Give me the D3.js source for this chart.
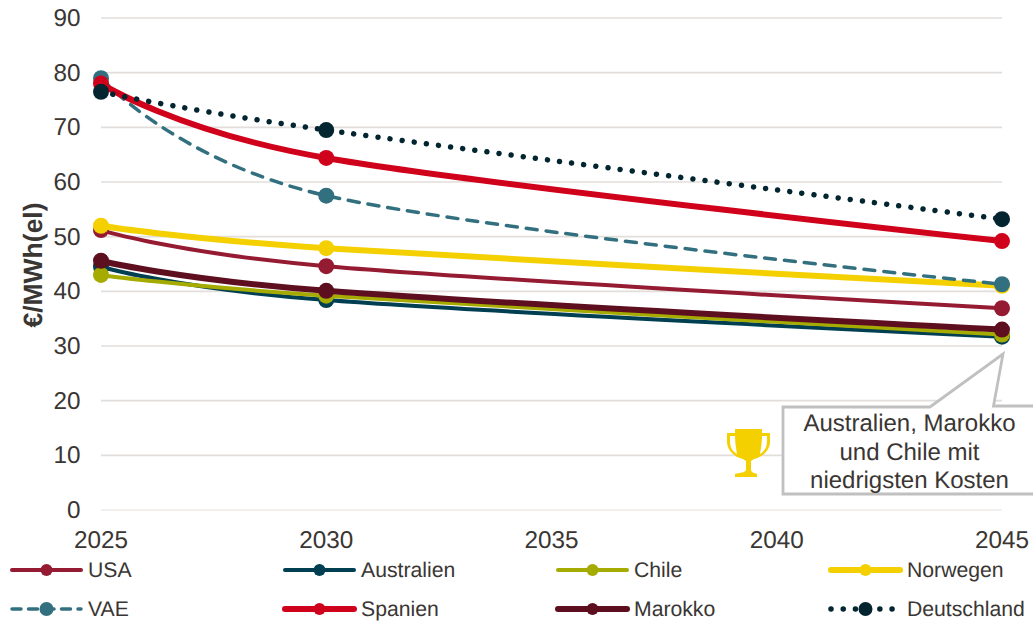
<!DOCTYPE html>
<html><head><meta charset="utf-8">
<script src="https://cdn.jsdelivr.net/npm/d3@7"></script>
<style>html,body{margin:0;padding:0;background:#fff}svg{display:block}text{font-family:"Liberation Sans",Arial,sans-serif;fill:#3a3633;text-rendering:geometricPrecision}</style>
</head><body><svg id="c" width="1033" height="621"></svg>
<script>
const years=[2025,2030,2045];
const yTicks=[0,10,20,30,40,50,60,70,80,90];
const xTicks=[2025,2030,2035,2040,2045];
const names=["USA","Australien","Chile","Norwegen","VAE","Spanien","Marokko","Deutschland"];
const colors=["#951b32","#003f52","#a5ab00","#f5d000","#33707f","#d0021b","#5e0f1f","#02252f"];
const widths=[4,4,4,6,3.5,6,6,0];
const usa=[51.2,44.6,36.9];
const australien=[44.5,38.4,31.7];
const chile=[43.0,39.2,32.1];
const norwegen=[52.0,47.9,41.0];
const vae=[79.0,57.5,41.3];
const spanien=[78.0,64.4,49.2];
const marokko=[45.6,40.1,33.0];
const deutschland=[76.5,69.5,53.2];
const values=[usa,australien,chile,norwegen,vae,spanien,marokko,deutschland];
const callout=["Australien, Marokko","und Chile mit","niedrigsten Kosten"];

const svg=d3.select("#c");
const x=d3.scaleLinear().domain([2025,2045]).range([101,1002]);
const y=d3.scaleLinear().domain([0,90]).range([510,18]);

svg.append("g").selectAll("line").data(yTicks).join("line")
  .attr("x1",x(2025)).attr("x2",x(2045)).attr("y1",d=>y(d)).attr("y2",d=>y(d))
  .attr("stroke",d=>d===0?"#eeeae7":"#e2dedb").attr("stroke-width",1.6);
svg.append("g").selectAll("text").data(yTicks).join("text")
  .attr("x",80.500).attr("y",d=>y(d)+8).attr("text-anchor","end").attr("font-size",24.300).text(d=>d);
svg.append("g").selectAll("text").data(xTicks).join("text")
  .attr("x",d=>x(d)).attr("y",547.500).attr("text-anchor","middle").attr("font-size",24.300).text(d=>d);
svg.append("text").attr("transform","translate(42,265) rotate(-90)").attr("text-anchor","middle")
  .attr("font-size",26.500).attr("font-weight","bold").text("€/MWh(el)");

const line=d3.line().x(d=>x(d[0])).y(d=>y(d[1])).curve(d3.curveCardinal.tension(0));
function dash(i){return i===4?"11 9":i===7?"0.01 12.2":null;}
names.forEach((n,i)=>{
  const g=svg.append("g");
  const pts=years.map((yr,k)=>[yr,values[i][k]]);
  g.append("path").attr("d",line(pts)).attr("fill","none").attr("stroke",colors[i])
   .attr("stroke-width",i===7?5.5:widths[i]).attr("stroke-linecap","round")
   .attr("stroke-dasharray",dash(i));
  g.selectAll("circle").data(pts).join("circle").attr("cx",d=>x(d[0])).attr("cy",d=>y(d[1]))
   .attr("r",8).attr("fill",colors[i]);
});

// legend
const legX=[12,285,558,831], legY=[570,609];
names.forEach((n,i)=>{
  const lx=legX[i%4], ly=legY[i<4?0:1], g=svg.append("g");
  g.append("line").attr("x1",lx).attr("x2",lx+69).attr("y1",ly).attr("y2",ly)
   .attr("stroke",colors[i]).attr("stroke-width",i===7?5.5:widths[i]).attr("stroke-linecap","round")
   .attr("stroke-dasharray",i===4?"9 7.5":i===7?"0.01 12.2":null);
  g.append("circle").attr("cx",lx+34.5).attr("cy",ly).attr("r",i===7||i===4?7:6).attr("fill",colors[i]);
  g.append("text").attr("x",lx+76).attr("y",ly+7).attr("font-size",21.200).text(n);
});

// callout
svg.append("path").attr("d","M783 407H930L1003 354L993.500 406H1040V494H783Z")
  .attr("fill","#fff").attr("stroke","#c0c0c0").attr("stroke-width",2.8);
svg.append("g").selectAll("text").data(callout).join("text")
  .attr("x",909.500).attr("y",(d,i)=>431+i*28.500).attr("text-anchor","middle").attr("font-size",24).text(d=>d);

// trophy
const t=svg.append("g").attr("transform","translate(727,428)").attr("fill","#f5d000");
t.append("path").attr("fill-rule","evenodd").attr("d","M8 1H35V5H43V14C43 22 36 29 27 31L24 33V42C24 44 27 45 30 46V49H35V49H8V49V46C13 45 19 44 19 42V33L16 31C7 29 0 22 0 14V5H8ZM3 8V14C3 19 6 24 10 26C9 20 8 14 8 8ZM35 8C35 14 34 20 33 26C37 24 40 19 40 14V8Z");
</script></body></html>
